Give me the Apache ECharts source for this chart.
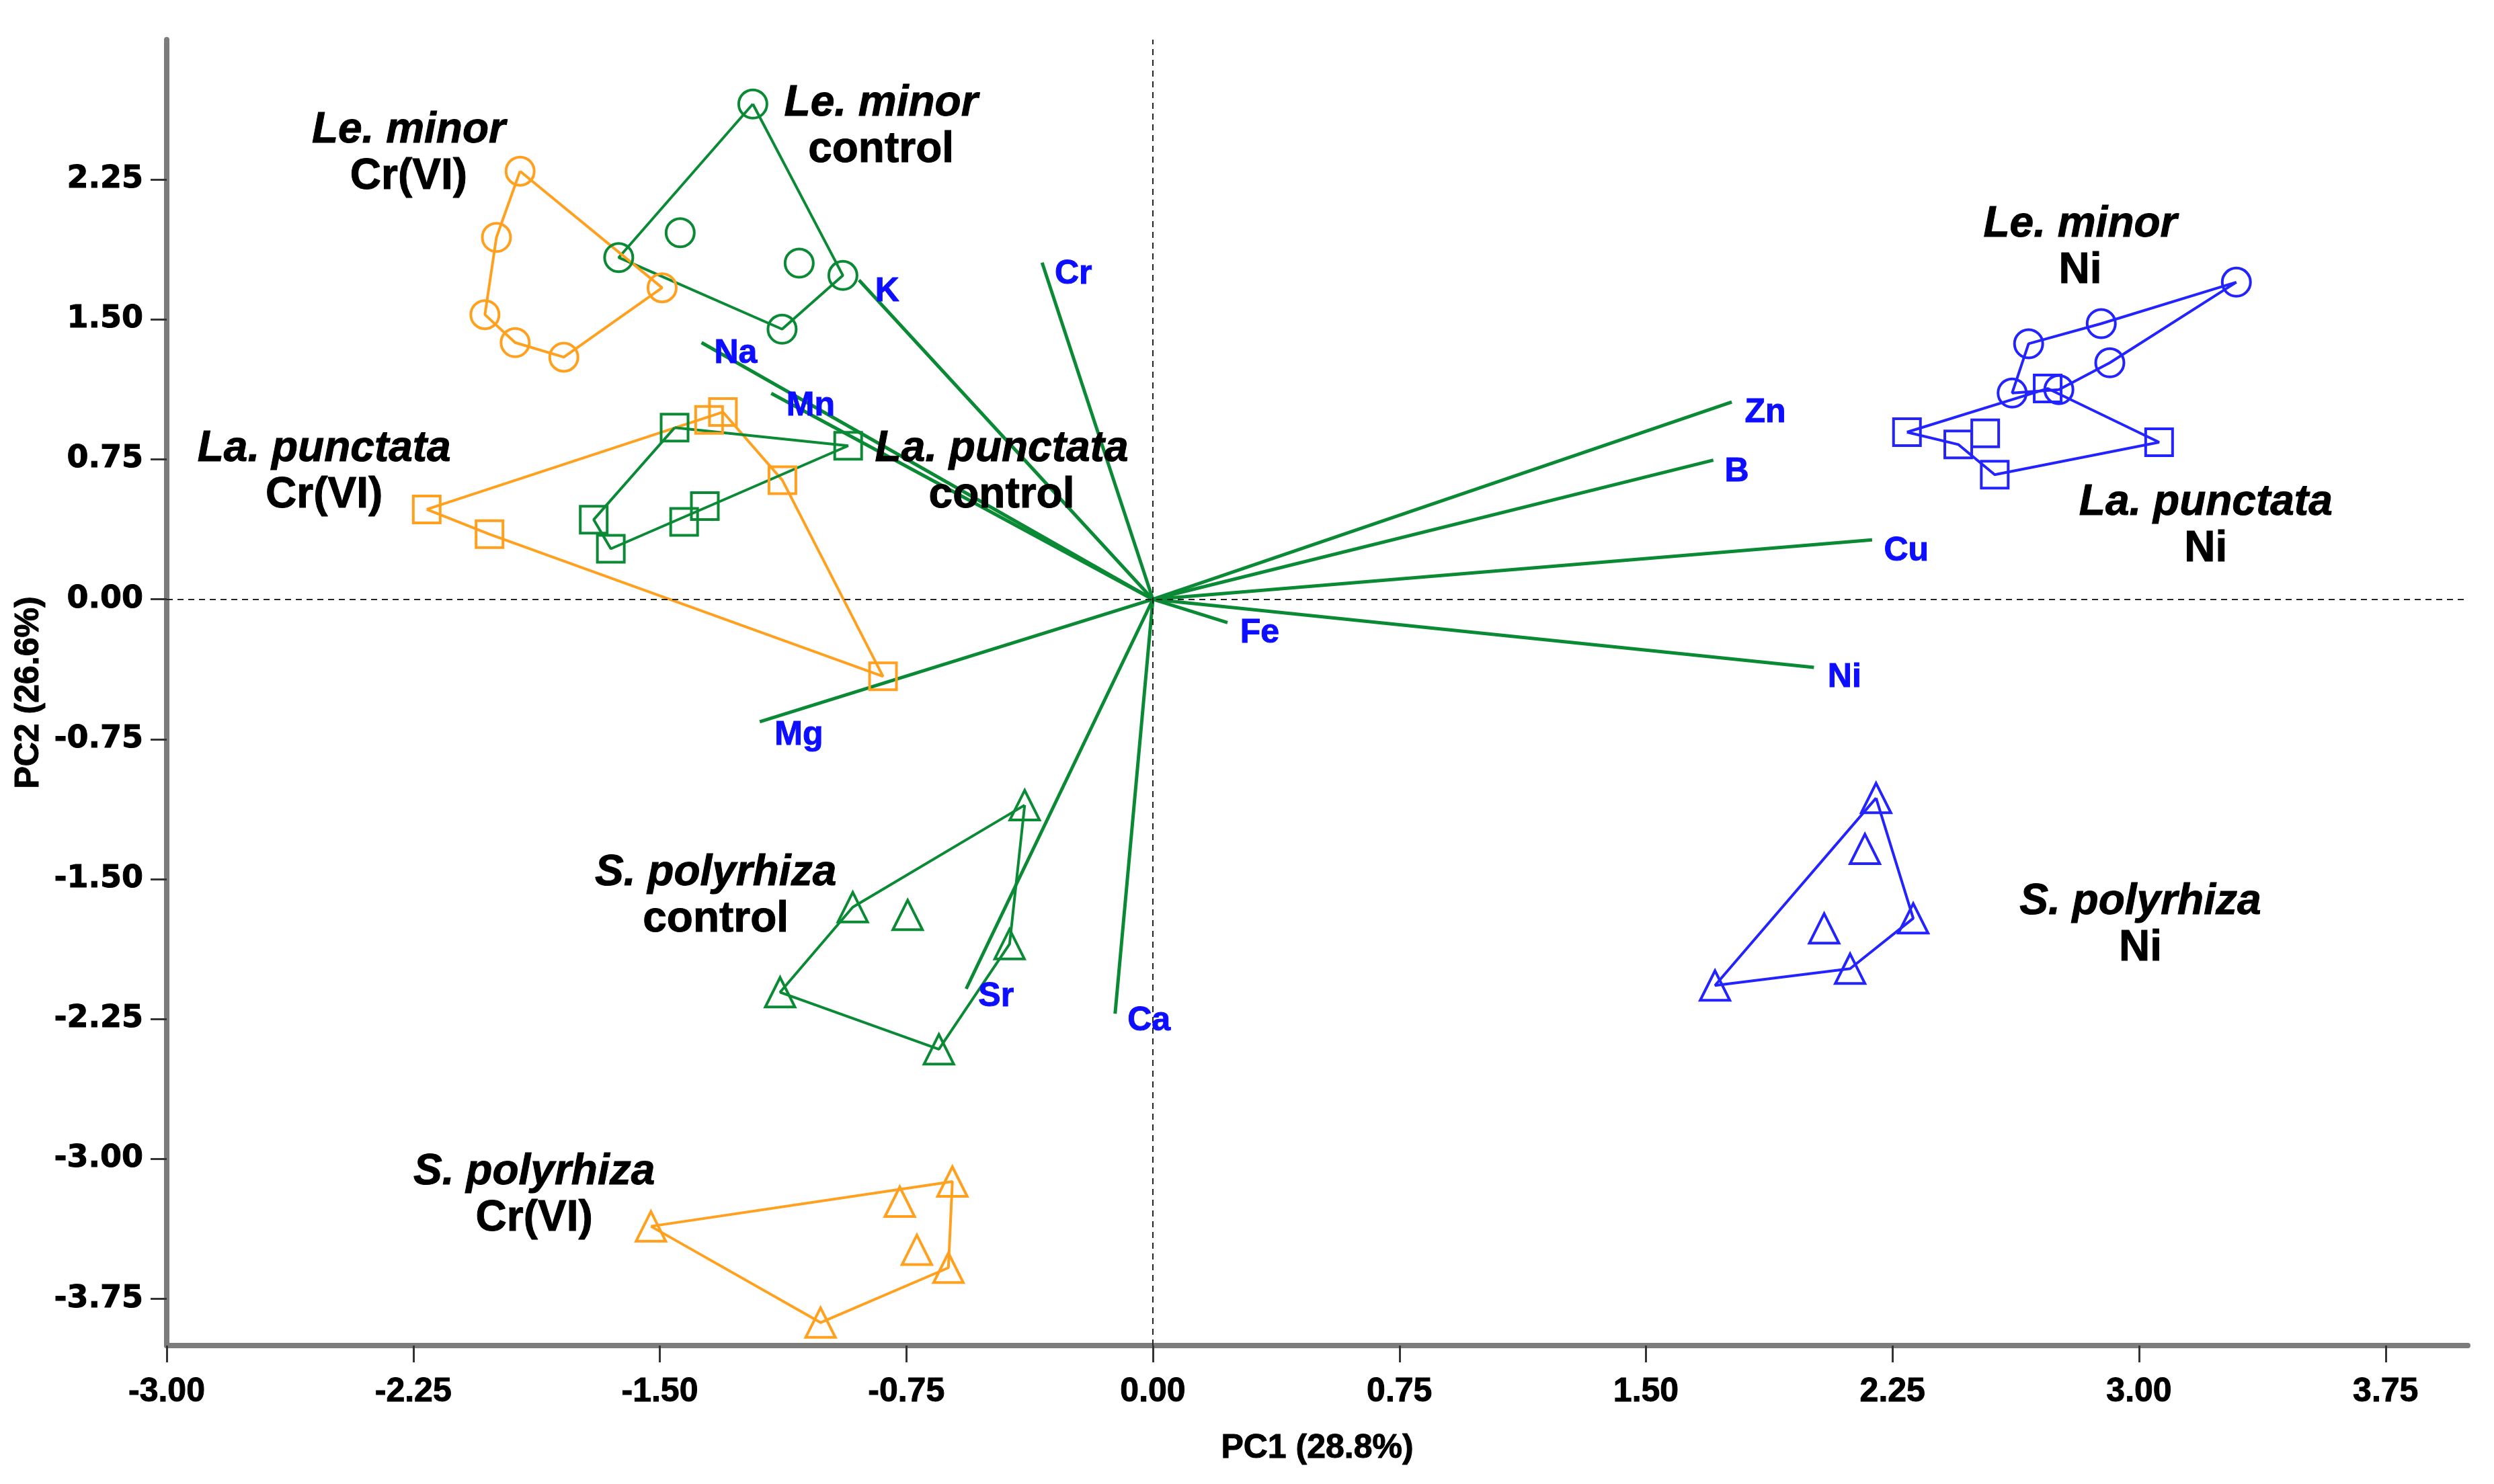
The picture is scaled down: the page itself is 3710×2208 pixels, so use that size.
<!DOCTYPE html>
<html><head><meta charset="utf-8">
<script src="https://cdn.jsdelivr.net/npm/echarts@6/dist/echarts.min.js"></script>
<style>html,body{margin:0;padding:0;background:#fff}#c{width:3710px;height:2208px}</style>
</head><body><div id="c"></div>
<script>
// ---------- data ----------
const xTicks = [-3.00, -2.25, -1.50, -0.75, 0.00, 0.75, 1.50, 2.25, 3.00, 3.75];
const yTicks = [-3.75, -3.00, -2.25, -1.50, -0.75, 0.00, 0.75, 1.50, 2.25];
const xAxisName = 'PC1 (28.8%)';
const yAxisName = 'PC2 (26.6%)';

// sample scores (PC1, PC2)
const leMinorControl = [[-1.217, 2.655], [-1.625, 1.832], [-1.438, 1.965], [-1.076, 1.802], [-0.943, 1.736], [-1.128, 1.448]];
const leMinorCr      = [[-1.925, 2.295], [-1.997, 1.940], [-2.032, 1.526], [-1.940, 1.376], [-1.792, 1.298], [-1.493, 1.670]];
const laPunctataCr   = [[-2.209, 0.482], [-2.018, 0.349], [-1.350, 0.962], [-1.308, 1.004], [-1.127, 0.638], [-0.821, -0.413]];
const laPunctataControl = [[-1.455, 0.920], [-0.927, 0.823], [-1.701, 0.427], [-1.649, 0.271], [-1.426, 0.415], [-1.363, 0.500]];
const sPolyControl   = [[-0.390, -1.103], [-0.913, -1.650], [-0.746, -1.692], [-0.436, -1.848], [-1.134, -2.106], [-0.651, -2.412]];
const sPolyCr        = [[-1.527, -3.361], [-0.770, -3.229], [-0.610, -3.121], [-0.718, -3.487], [-0.622, -3.583], [-1.011, -3.877]];
const leMinorNi      = [[3.296, 1.700], [2.885, 1.478], [2.664, 1.370], [2.911, 1.268], [2.614, 1.106], [2.756, 1.124]];
const laPunctataNi   = [[2.294, 0.896], [2.450, 0.830], [2.532, 0.890], [2.561, 0.668], [2.722, 1.130], [3.061, 0.842]];
const sPolyNi        = [[2.200, -1.065], [2.166, -1.338], [2.313, -1.710], [2.042, -1.764], [2.121, -1.980], [1.710, -2.070]];

// convex hull vertex order (indices into each group)
const hullLeMinorControl = [0, 4, 5, 1, 0];
const hullLeMinorCr = [0, 5, 4, 3, 2, 1, 0];
const hullLaPunctataCr = [0, 3, 4, 5, 1, 0];
const hullLaPunctataControl = [0, 1, 3, 2, 0];
const hullSPolyControl = [0, 3, 5, 4, 1, 0];
const hullSPolyCr = [0, 2, 4, 5, 0];
const hullLeMinorNi = [0, 3, 5, 4, 2, 1, 0];
const hullLaPunctataNi = [0, 4, 5, 3, 1, 0];
const hullSPolyNi = [0, 2, 4, 5, 0];

// variable loadings
const loadingNames = ['Cr', 'K', 'Na', 'Mn', 'Zn', 'B', 'Cu', 'Fe', 'Ni', 'Mg', 'Sr', 'Ca'];
const loadingPC1 = [-0.337, -0.894, -1.373, -1.161, 1.761, 1.705, 2.188, 0.227, 2.011, -1.196, -0.568, -0.115];
const loadingPC2 = [1.805, 1.711, 1.376, 1.104, 1.058, 0.746, 0.319, -0.125, -0.365, -0.656, -2.088, -2.221];
const loadingLabelPC1 = [-0.242, -0.808, -1.269, -1.041, 1.863, 1.776, 2.292, 0.325, 2.104, -1.077, -0.477, -0.012];
const loadingLabelPC2 = [1.741, 1.650, 1.318, 1.034, 0.998, 0.681, 0.259, -0.183, -0.418, -0.730, -2.130, -2.262];

// group annotation texts and anchors
const groupSpecies = ['Le. minor', 'Le. minor', 'La. punctata', 'La. punctata', 'S. polyrhiza', 'S. polyrhiza', 'Le. minor', 'La. punctata', 'S. polyrhiza'];
const groupTreatment = ['Cr(VI)', 'control', 'Cr(VI)', 'control', 'control', 'Cr(VI)', 'Ni', 'Ni', 'Ni'];
const groupLabelPC1 = [-2.264, -0.827, -2.521, -0.460, -1.330, -1.882, 2.821, 3.203, 3.004];
const groupLabelPC2 = [2.387, 2.532, 0.682, 0.682, -1.594, -3.197, 1.884, 0.392, -1.748];

// ---------- styles ----------
const GREEN = '#0b8a35', ORANGE = '#ffa01e', BLUE = '#2323ff', LBLUE = '#0d0dff';
const FONT = '"Liberation Sans", Arial, sans-serif';
const groups = [
  {pts: leMinorControl, hull: hullLeMinorControl, color: GREEN, symbol: 'circle'},
  {pts: leMinorCr, hull: hullLeMinorCr, color: ORANGE, symbol: 'circle'},
  {pts: laPunctataCr, hull: hullLaPunctataCr, color: ORANGE, symbol: 'rect'},
  {pts: laPunctataControl, hull: hullLaPunctataControl, color: GREEN, symbol: 'rect'},
  {pts: sPolyControl, hull: hullSPolyControl, color: GREEN, symbol: 'triangle'},
  {pts: sPolyCr, hull: hullSPolyCr, color: ORANGE, symbol: 'triangle'},
  {pts: leMinorNi, hull: hullLeMinorNi, color: BLUE, symbol: 'circle'},
  {pts: laPunctataNi, hull: hullLaPunctataNi, color: BLUE, symbol: 'rect'},
  {pts: sPolyNi, hull: hullSPolyNi, color: BLUE, symbol: 'triangle'}
];
const symSize = {circle: 42, rect: 40, triangle: 44};

const series = [];
// reference dashed lines
series.push({
  type: 'line', data: [], silent: true, z: 1,
  markLine: {
    silent: true, symbol: ['none', 'none'], label: {show: false},
    lineStyle: {color: '#222', width: 2, type: [9, 7]},
    data: [{xAxis: 0}, {yAxis: 0}], animation: false
  }
});
// loadings
loadingNames.forEach((n, i) => {
  series.push({
    type: 'line', name: n, data: [[0, 0], [loadingPC1[i], loadingPC2[i]]],
    showSymbol: false, symbol: 'none', z: 3,
    lineStyle: {color: GREEN, width: 5}
  });
});
series.push({
  type: 'scatter', z: 6, symbolSize: 1, itemStyle: {color: 'rgba(0,0,0,0)', opacity: 1},
  data: loadingNames.map((n, i) => ({name: n, value: [loadingLabelPC1[i], loadingLabelPC2[i]]})),
  label: {show: true, position: 'inside', formatter: p => p.name, color: LBLUE,
          fontWeight: 'bold', fontSize: 50, fontFamily: FONT,
          textBorderColor: LBLUE, textBorderWidth: 1}
});
// groups
groups.forEach(g => {
  series.push({
    type: 'line', data: g.hull.map(k => g.pts[k]), showSymbol: false, symbol: 'none', z: 4,
    lineStyle: {color: g.color, width: 4}
  });
  series.push({
    type: 'scatter', data: g.pts, symbol: g.symbol, symbolSize: symSize[g.symbol], z: 5,
    itemStyle: {color: 'rgba(0,0,0,0)', borderColor: g.color, borderWidth: 4, opacity: 1}
  });
});
// group labels
const richBase = {fontWeight: 'bold', fontSize: 64, fontFamily: FONT, color: '#000', lineHeight: 69,
                  align: 'center', textBorderColor: '#000', textBorderWidth: 1};
series.push({
  type: 'scatter', z: 7, symbolSize: 1, itemStyle: {color: 'rgba(0,0,0,0)', opacity: 1},
  data: groupSpecies.map((s, i) => ({name: s + '|' + groupTreatment[i], value: [groupLabelPC1[i], groupLabelPC2[i]]})),
  label: {
    show: true, position: 'inside', align: 'center', verticalAlign: 'middle', color: '#000',
    formatter: p => { const a = p.name.split('|'); return '{i|' + a[0] + '}\n{n|' + a[1] + '}'; },
    rich: {
      i: Object.assign({fontStyle: 'italic'}, richBase),
      n: Object.assign({}, richBase)
    }
  }
});

const chart = echarts.init(document.getElementById('c'), null, {renderer: 'canvas'});
chart.setOption({
  animation: false,
  backgroundColor: '#fff',
  grid: {left: 248, right: 39, top: 59, bottom: 206, containLabel: false},
  xAxis: {
    type: 'value', min: -3, max: 4,
    name: xAxisName, nameLocation: 'middle', nameGap: 128,
    nameTextStyle: {fontSize: 50, fontWeight: 'bold', fontFamily: FONT, color: '#000',
                    textBorderColor: '#000', textBorderWidth: 1},
    axisLine: {show: true, onZero: false, lineStyle: {color: '#7c7c7c', width: 8}},
    axisTick: {show: true, customValues: xTicks, length: 25, lineStyle: {color: '#333', width: 3}},
    axisLabel: {customValues: xTicks, margin: 44, formatter: v => v.toFixed(2), fontSize: 50,
                fontWeight: 'bold', fontFamily: FONT, color: '#000', textBorderColor: '#000', textBorderWidth: 1},
    splitLine: {show: false}
  },
  yAxis: {
    type: 'value', min: -4, max: 3,
    name: yAxisName, nameLocation: 'middle', nameGap: 134, nameRotate: 90,
    nameTextStyle: {fontSize: 50, fontWeight: 'bold', fontFamily: FONT, color: '#000',
                    textBorderColor: '#000', textBorderWidth: 1},
    axisLine: {show: true, onZero: false, lineStyle: {color: '#7c7c7c', width: 8}},
    axisTick: {show: true, customValues: yTicks, length: 24, lineStyle: {color: '#333', width: 3}},
    axisLabel: {customValues: yTicks, margin: 35, formatter: v => v.toFixed(2), fontSize: 46,
                fontWeight: 'bold', fontFamily: '"DejaVu Sans", sans-serif', color: '#000',
                textBorderColor: '#000', textBorderWidth: 1},
    splitLine: {show: false}
  },
  series: series
});
</script></body></html>
